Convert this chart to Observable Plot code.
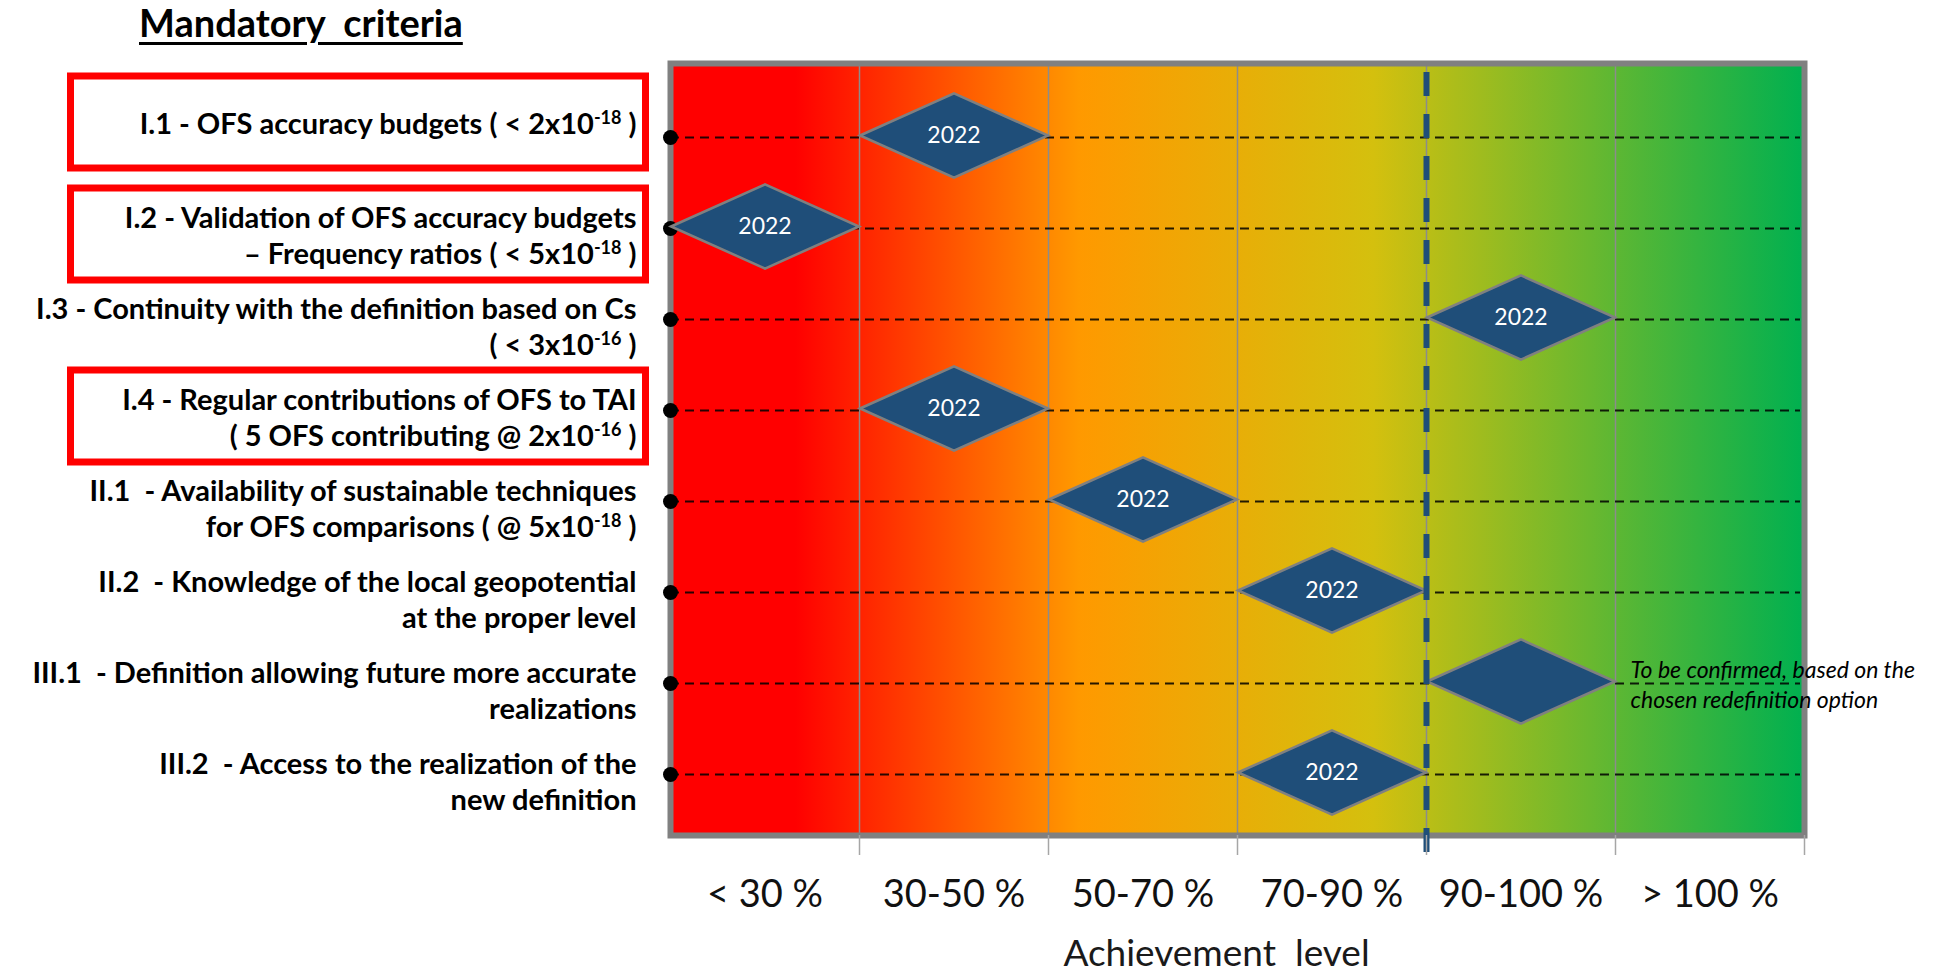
<!DOCTYPE html>
<html>
<head>
<meta charset="utf-8">
<script src="https://cdn.jsdelivr.net/npm/d3@7"></script>
<script src="https://cdn.jsdelivr.net/npm/@observablehq/plot@0.6"></script>
<style>
  html, body { margin: 0; padding: 0; background: #fff; overflow: hidden; }
  #title { height: 50px; box-sizing: border-box; padding: 2px 0 0 139px; font: bold 38px/40px Lato, sans-serif; white-space: pre; color: #000; }
  #title span { text-decoration: underline; text-decoration-thickness: 2.5px; text-underline-offset: 5px; }
  #chart svg text { white-space: pre; }
</style>
</head>
<body>
<div id="title"><span></span></div>
<div id="chart"></div>
<script>
// ---- data ----
const chartTitle = "Mandatory  criteria";
const xTitle = "Achievement  level";
const criteria = ["I.1", "I.2", "I.3", "I.4", "II.1", "II.2", "III.1", "III.2"];
const criteriaLabels = [
  "I.1 - OFS accuracy budgets ( < 2x10^{-18} )",
  "I.2 - Validation of OFS accuracy budgets\n– Frequency ratios ( < 5x10^{-18} )",
  "I.3 - Continuity with the definition based on Cs\n( < 3x10^{-16} )",
  "I.4 - Regular contributions of OFS to TAI\n( 5 OFS contributing @ 2x10^{-16} )",
  "II.1  - Availability of sustainable techniques\nfor OFS comparisons ( @ 5x10^{-18} )",
  "II.2  - Knowledge of the local geopotential\nat the proper level",
  "III.1  - Definition allowing future more accurate\nrealizations",
  "III.2  - Access to the realization of the\nnew definition"
];
const levels = ["< 30 %", "30-50 %", "50-70 %", "70-90 %", "90-100 %", "> 100 %"];
const achieved = ["30-50 %", "< 30 %", "90-100 %", "30-50 %", "50-70 %", "70-90 %", "90-100 %", "70-90 %"];
const years = ["2022", "2022", "2022", "2022", "2022", "2022", "", "2022"];
const boxedCriteria = ["I.1", "I.2", "I.4"];
const thresholdLevel = "90-100 %";
const noteCriterion = "III.1";
const noteText = "To be confirmed, based on the\nchosen redefinition option";

// ---- derived table ----
const rows = criteria.map((id, i) => ({
  id, label: criteriaLabels[i], level: achieved[i],
  col: levels.indexOf(achieved[i]), year: years[i]
}));
const labelOf = new Map(rows.map(d => [d.id, d.label]));
const singleIds = criteria.filter(id => !labelOf.get(id).includes("\n"));
const multiIds = criteria.filter(id => labelOf.get(id).includes("\n"));
const noteRow = rows.find(d => d.id === noteCriterion);

document.querySelector("#title span").textContent = chartTitle;

// ---- helpers ----
const NS = "http://www.w3.org/2000/svg";
function el(tag, attrs = {}) {
  const e = document.createElementNS(NS, tag);
  for (const [k, v] of Object.entries(attrs)) e.setAttribute(k, v);
  return e;
}
const SINGLE_DY = -15, MULTI_DY = 6;

const gradientStops = [[0, "#FF0000"], [0.11, "#FF0000"], [0.36, "#FF9900"], [0.62, "#D4C00E"], [1, "#00B050"]];
const defsMark = () => {
  const defs = el("defs");
  const lg = el("linearGradient", {id: "achv-grad", x1: 0, y1: 0, x2: 1, y2: 0});
  for (const [o, c] of gradientStops) lg.append(el("stop", {offset: o, "stop-color": c}));
  defs.append(lg);
  return defs;
};

const boxMark = (index, scales, values, dims) => {
  const g = el("g", {"aria-label": "criteria boxes"});
  for (const id of boxedCriteria) {
    const single = !labelOf.get(id).includes("\n");
    const cy = scales.y(id) + (single ? SINGLE_DY : MULTI_DY);
    g.append(el("rect", {
      x: dims.marginLeft - 599.5, y: cy - 46, width: 575, height: 92,
      fill: "none", stroke: "#FF0000", "stroke-width": 7
    }));
  }
  return g;
};

const wideDiamond = {
  draw(ctx, size) {
    const r = Math.sqrt(size / Math.PI), h = r * 0.447;
    ctx.moveTo(-r, 0); ctx.lineTo(0, -h); ctx.lineTo(r, 0); ctx.lineTo(0, h); ctx.closePath();
  }
};

const svg = Plot.plot({
  width: 1939,
  height: 920,
  marginLeft: 670,
  marginRight: 135,
  marginTop: 13,
  marginBottom: 135,
  style: {fontFamily: "Lato, sans-serif", background: "#fff", overflow: "visible", color: "#000"},
  x: {type: "linear", domain: [0, levels.length]},
  y: {type: "point", domain: criteria, range: [87, 724], padding: 0},
  marks: [
    defsMark,
    Plot.frame({fill: "url(#achv-grad)", stroke: "none"}),
    Plot.ruleX(d3.range(1, levels.length), {stroke: "#8c8c8c", strokeWidth: 1.5}),
    Plot.ruleY(rows, {y: "id", stroke: "#000", strokeOpacity: 0.85, strokeWidth: 2, strokeDasharray: "9,6", insetRight: 4}),
    Plot.frame({stroke: "#808080", strokeWidth: 6}),
    Plot.dot(rows, {x: 0, y: "id", r: 7.5, fill: "#000"}),
    Plot.dot(rows, {x: d => d.col + 0.5, y: "id", r: 94, symbol: wideDiamond, fill: "#1F4E79", stroke: "#808080", strokeWidth: 2.5, dy: -2}),
    Plot.text(rows.filter(d => d.year), {x: d => d.col + 0.5, y: "id", text: "year", fill: "#fff", fontSize: 23, dy: -2}),
    Plot.ruleX([levels.indexOf(thresholdLevel)], {stroke: "#1F4E79", strokeWidth: 6, strokeDasharray: "24,18", insetTop: 9, insetBottom: -18}),
    Plot.text([noteRow], {x: d => d.col + 1, y: "id", text: () => noteText, textAnchor: "start", dx: 15, fontSize: 23, fontStyle: "italic", lineHeight: 1.3, fill: "#000"}),
    Plot.axisX({ticks: d3.range(1, levels.length + 1), tickSize: 20, tickFormat: () => "", stroke: "#a6a6a6", strokeWidth: 1.5, label: null}),
    Plot.axisX({ticks: levels.map((_, i) => i + 0.5), tickFormat: d => levels[Math.floor(d)], tickSize: 0, tickPadding: 45, fontSize: 38, label: null, fill: "#111"}),
    Plot.axisY({ticks: singleIds, tickFormat: id => labelOf.get(id), tickSize: 0, tickPadding: 34, fontSize: 29, fontWeight: "bold", lineHeight: 1.26, dy: SINGLE_DY, label: null}),
    Plot.axisY({ticks: multiIds, tickFormat: id => labelOf.get(id), tickSize: 0, tickPadding: 34, fontSize: 29, fontWeight: "bold", lineHeight: 1.26, dy: MULTI_DY, label: null}),
    Plot.text([xTitle], {text: d => d, frameAnchor: "bottom", dy: 130, dx: -21, fontSize: 37, fill: "#1a1a1a"}),
    boxMark
  ]
});

// superscripts: turn ^{...} into raised tspans
svg.querySelectorAll("text, tspan").forEach(node => {
  for (const child of Array.from(node.childNodes)) {
    if (child.nodeType === 3 && child.nodeValue.includes("^{")) {
      const frag = document.createDocumentFragment();
      let shifted = false;
      for (const p of child.nodeValue.split(/(\^\{[^}]*\})/)) {
        if (!p) continue;
        const m = p.match(/^\^\{([^}]*)\}$/);
        if (m) {
          const t = el("tspan", {dy: -10, "font-size": 18});
          t.textContent = m[1];
          frag.append(t);
          shifted = true;
        } else if (shifted) {
          const t = el("tspan", {dy: 10});
          t.textContent = p;
          frag.append(t);
          shifted = false;
        } else {
          frag.append(document.createTextNode(p));
        }
      }
      child.replaceWith(frag);
    }
  }
});

document.getElementById("chart").append(svg);
</script>
</body>
</html>
